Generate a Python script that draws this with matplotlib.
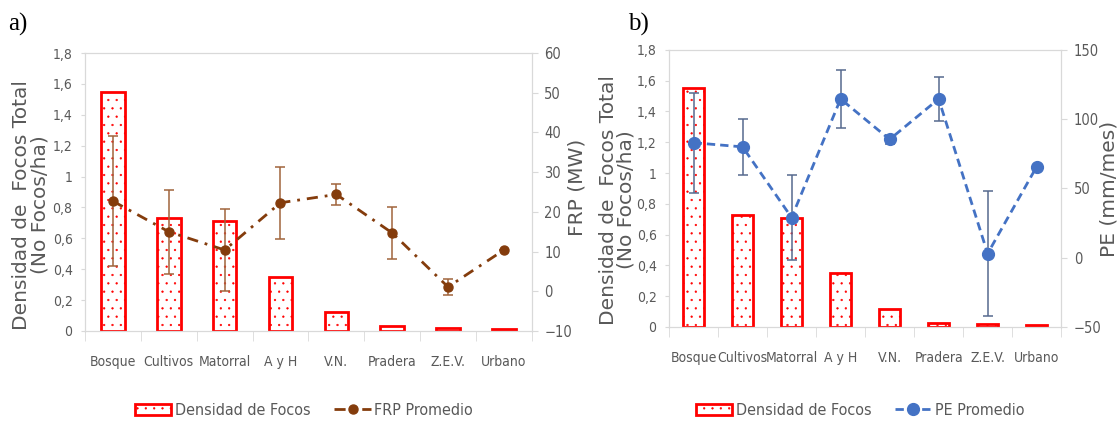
import matplotlib

matplotlib.use("Agg")
import matplotlib.pyplot as plt
import numpy as np
from matplotlib.lines import Line2D
from matplotlib.patches import Patch

plt.rcParams["hatch.color"] = "#FF3030"
plt.rcParams["hatch.linewidth"] = 0.4

CATEGORIES = ["Bosque", "Cultivos", "Matorral", "A y H", "V.N.", "Pradera", "Z.E.V.", "Urbano"]

# Fire density per land cover (same in both panels)
DENSITY_A = [1.55, 0.73, 0.71, 0.35, 0.12, 0.03, 0.02, 0.015]
DENSITY_B = [1.55, 0.73, 0.71, 0.35, 0.12, 0.025, 0.02, 0.012]

# Mean fire radiative power (MW) with error half-widths
FRP_MEAN = [22.7, 15.0, 10.4, 22.3, 24.4, 14.7, 1.1, 10.4]
FRP_ERR = [16.3, 10.6, 10.4, 9.1, 2.7, 6.6, 2.1, 0.0]

# Mean precipitation (mm/mes) with error half-widths
PE_MEAN = [83.0, 80.0, 29.0, 114.6, 85.4, 114.6, 3.0, 65.7]
PE_ERR = [36.0, 20.0, 31.0, 21.0, 3.0, 16.0, 45.0, 0.0]

TICK_FONT = {"family": "DejaVu Sans", "stretch": "condensed"}
TICK_COLOR = "#595959"
SPINE_COLOR = "#D9D9D9"
DENSITY_TICKS = ["0", "0,2", "0,4", "0,6", "0,8", "1", "1,2", "1,4", "1,6", "1,8"]


def style_axes(ax, ax2, n, label_x, label_y):
    for side in ("top", "right", "left", "bottom"):
        ax.spines[side].set_color(SPINE_COLOR)
        ax2.spines[side].set_color(SPINE_COLOR)
    ax.set_xlim(-0.5, n - 0.5)
    ax.set_xticks(np.arange(n))
    ax.set_xticklabels(CATEGORIES, fontsize=10, color=TICK_COLOR, **TICK_FONT)
    ax.set_xticks(np.arange(n + 1) - 0.5, minor=True)
    ax.tick_params(axis="x", which="major", length=0, pad=17)
    ax.tick_params(axis="x", which="minor", length=7, color=SPINE_COLOR)
    ax.set_ylim(0, 1.8)
    ax.set_yticks(np.arange(0, 1.81, 0.2))
    ax.set_yticklabels(DENSITY_TICKS, fontsize=10, color=TICK_COLOR, **TICK_FONT)
    ax.tick_params(axis="y", length=3, color=SPINE_COLOR, pad=6)
    ax2.tick_params(axis="y", length=4, color=SPINE_COLOR, pad=5)
    for lbl in ax2.get_yticklabels():
        lbl.set_family(TICK_FONT["family"])
        lbl.set_stretch(TICK_FONT["stretch"])
        lbl.set_fontsize(10.5)
        lbl.set_color(TICK_COLOR)
    ax.set_ylabel("Densidad de  Focos Total\n(No Focos/ha)", fontsize=14.5,
                  color=TICK_COLOR, linespacing=0.95, multialignment="center")
    ax.yaxis.set_label_coords(label_x, label_y)


def draw_bars(ax, values):
    x = np.arange(len(values))
    ax.bar(x, values, width=0.42, facecolor="white", edgecolor="#FF0000",
           linewidth=2, hatch="..", zorder=2)


def add_legend(handle, label, center_x, spacing):
    bar_handle = Patch(facecolor="white", edgecolor="#FF0000", hatch="..", linewidth=2)
    fig.legend([bar_handle, handle], ["Densidad de Focos", label], loc="center",
               bbox_to_anchor=(center_x, 0.03), ncol=2, frameon=False,
               columnspacing=spacing, handlelength=2.3, handletextpad=0.2,
               prop={"size": 11.5, **TICK_FONT}, labelcolor=TICK_COLOR)


fig = plt.figure(figsize=(11.17, 4.23), dpi=100)
x = np.arange(len(CATEGORIES))

# Panel a: density vs FRP
ax_a = fig.add_axes([0.0761, 0.2175, 0.400, 0.657])
draw_bars(ax_a, DENSITY_A)
ax_a2 = ax_a.twinx()
frp_style = dict(color="#843C0C", linestyle=(0, (4, 2.5, 1, 2.5)), linewidth=2,
                 marker="o", markersize=6.5)
ax_a2.errorbar(x, FRP_MEAN, yerr=FRP_ERR, ecolor="#A0643C", elinewidth=1.1,
               capsize=3.5, capthick=1.1, zorder=3, **frp_style)
ax_a2.set_ylim(-10, 60)
ax_a2.set_yticks(np.arange(-10, 61, 10))
style_axes(ax_a, ax_a2, len(CATEGORIES), -0.08, 0.453)
ax_a2.set_ylabel("FRP (MW)", fontsize=14.5, color=TICK_COLOR)
ax_a2.yaxis.set_label_coords(1.08, 0.518)
fig.text(0.007, 0.927, "a)", family="Liberation Serif", fontsize=18)
add_legend(Line2D([], [], **frp_style), "FRP Promedio", 0.272, 1.5)

# Panel b: density vs PE
ax_b = fig.add_axes([0.599, 0.227, 0.351, 0.655])
draw_bars(ax_b, DENSITY_B)
ax_b2 = ax_b.twinx()
pe_style = dict(color="#4472C4", linestyle=(0, (3, 1.8)), linewidth=2,
                marker="o", markersize=8.5)
ax_b2.errorbar(x, PE_MEAN, yerr=PE_ERR, ecolor="#56698E", elinewidth=1.1,
               capsize=3.5, capthick=1.1, zorder=3, **pe_style)
ax_b2.set_ylim(-50, 150)
ax_b2.set_yticks(np.arange(-50, 151, 50))
style_axes(ax_b, ax_b2, len(CATEGORIES), -0.085, 0.458)
ax_b2.set_ylabel("PE (mm/mes)", fontsize=14.5, color=TICK_COLOR)
ax_b2.yaxis.set_label_coords(1.097, 0.5)
fig.text(0.562, 0.927, "b)", family="Liberation Serif", fontsize=18)
add_legend(Line2D([], [], **pe_style), "PE Promedio", 0.77, 1.5)

fig.savefig("out.png", dpi=100)
